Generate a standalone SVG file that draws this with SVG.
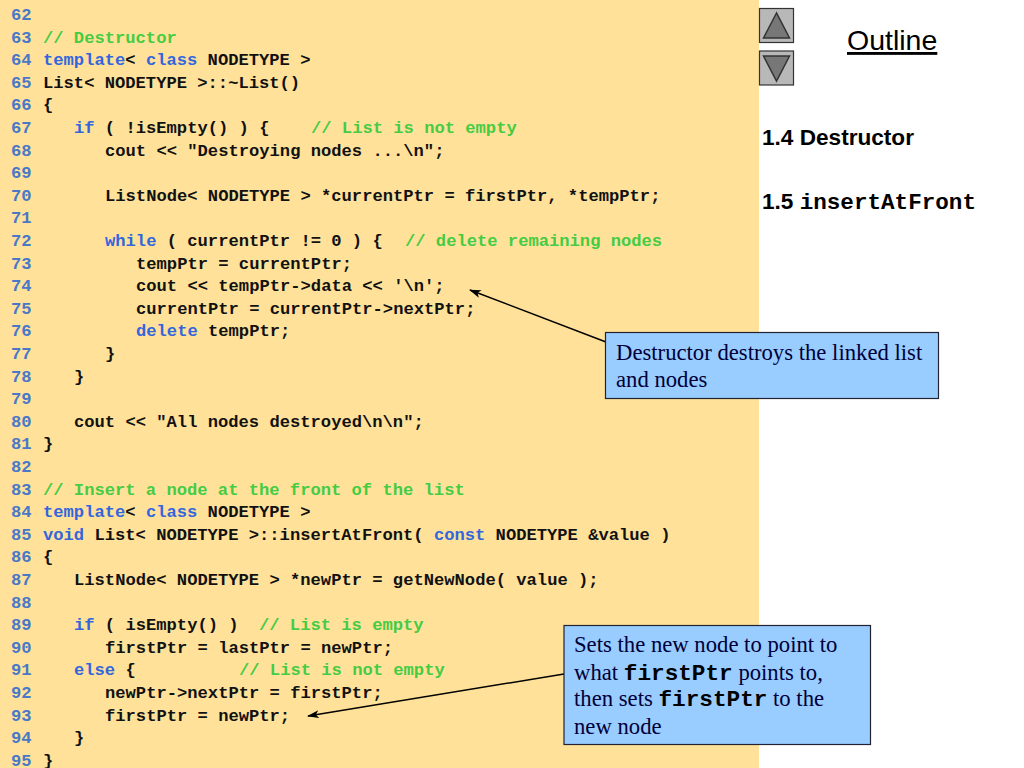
<svg xmlns="http://www.w3.org/2000/svg" width="1024" height="768" viewBox="0 0 1024 768">
<style>
.c{font-family:"Liberation Mono",monospace;font-weight:bold;font-size:17.15px;fill:#111}
.n{fill:#4a78c8}.k{fill:#3366dd}.g{fill:#44cc44}
.s{font-family:"Liberation Serif",serif;font-size:22.7px;fill:#00003a}
.m{font-family:"Liberation Mono",monospace;font-weight:bold}
.mk{fill:#000}
.h{font-family:"Liberation Sans",sans-serif;fill:#000}
.box{fill:#99ccff;stroke:#223;stroke-width:1.2}
.btn{fill:#b8b8b8;stroke:#333;stroke-width:1.2}
.tri{fill:#777;stroke:#333;stroke-width:1.5}
.ln{stroke:#000;stroke-width:1.5;fill:none;marker-end:url(#a)}
</style>
<defs><marker id="a" markerWidth="12" markerHeight="8" refX="11" refY="4" orient="auto" markerUnits="userSpaceOnUse"><path d="M0 0L12 4L0 8L3 4Z" fill="#000"/></marker></defs>
<rect width="1024" height="768" fill="#fff"/>
<rect id="panel" width="759" height="768" fill="#ffe199"/>
<g id="code" class="c">
<text x="11" y="20" class="n">62</text>
<text x="11" y="42.6" class="n">63</text><text x="43" y="42.6" class="g">// Destructor</text>
<text x="11" y="65.2" class="n">64</text><text x="43" y="65.2"><tspan class="k">template</tspan>&lt; <tspan class="k">class</tspan> NODETYPE &gt;</text>
<text x="11" y="87.8" class="n">65</text><text x="43" y="87.8">List&lt; NODETYPE &gt;::~List()</text>
<text x="11" y="110.4" class="n">66</text><text x="43" y="110.4">{</text>
<text x="11" y="133" class="n">67</text><text x="74" y="133"><tspan class="k">if</tspan> ( !isEmpty() ) {<tspan class="g" x="311">// List is not empty</tspan></text>
<text x="11" y="155.6" class="n">68</text><text x="105" y="155.6">cout &lt;&lt; "Destroying nodes ...\n";</text>
<text x="11" y="178.2" class="n">69</text>
<text x="11" y="200.8" class="n">70</text><text x="105" y="200.8">ListNode&lt; NODETYPE &gt; *currentPtr = firstPtr, *tempPtr;</text>
<text x="11" y="223.4" class="n">71</text>
<text x="11" y="246" class="n">72</text><text x="105" y="246"><tspan class="k">while</tspan> ( currentPtr != 0 ) {<tspan class="g" x="405">// delete remaining nodes</tspan></text>
<text x="11" y="268.6" class="n">73</text><text x="136" y="268.6">tempPtr = currentPtr;</text>
<text x="11" y="291.2" class="n">74</text><text x="136" y="291.2">cout &lt;&lt; tempPtr-&gt;data &lt;&lt; '\n';</text>
<text x="11" y="313.8" class="n">75</text><text x="136" y="313.8">currentPtr = currentPtr-&gt;nextPtr;</text>
<text x="11" y="336.4" class="n">76</text><text x="136" y="336.4"><tspan class="k">delete</tspan> tempPtr;</text>
<text x="11" y="359" class="n">77</text><text x="105" y="359">}</text>
<text x="11" y="381.6" class="n">78</text><text x="74" y="381.6">}</text>
<text x="11" y="404.2" class="n">79</text>
<text x="11" y="426.8" class="n">80</text><text x="74" y="426.8">cout &lt;&lt; "All nodes destroyed\n\n";</text>
<text x="11" y="449.4" class="n">81</text><text x="43" y="449.4">}</text>
<text x="11" y="472" class="n">82</text>
<text x="11" y="494.6" class="n">83</text><text x="43" y="494.6" class="g">// Insert a node at the front of the list</text>
<text x="11" y="517.2" class="n">84</text><text x="43" y="517.2"><tspan class="k">template</tspan>&lt; <tspan class="k">class</tspan> NODETYPE &gt;</text>
<text x="11" y="539.8" class="n">85</text><text x="43" y="539.8"><tspan class="k">void</tspan> List&lt; NODETYPE &gt;::insertAtFront( <tspan class="k">const</tspan> NODETYPE &amp;value )</text>
<text x="11" y="562.4" class="n">86</text><text x="43" y="562.4">{</text>
<text x="11" y="585" class="n">87</text><text x="74" y="585">ListNode&lt; NODETYPE &gt; *newPtr = getNewNode( value );</text>
<text x="11" y="607.6" class="n">88</text>
<text x="11" y="630.2" class="n">89</text><text x="74" y="630.2"><tspan class="k">if</tspan> ( isEmpty() )<tspan class="g" x="259">// List is empty</tspan></text>
<text x="11" y="652.8" class="n">90</text><text x="105" y="652.8">firstPtr = lastPtr = newPtr;</text>
<text x="11" y="675.4" class="n">91</text><text x="74" y="675.4"><tspan class="k">else</tspan> {<tspan class="g" x="239">// List is not empty</tspan></text>
<text x="11" y="698" class="n">92</text><text x="105" y="698">newPtr-&gt;nextPtr = firstPtr;</text>
<text x="11" y="720.6" class="n">93</text><text x="105" y="720.6">firstPtr = newPtr;</text>
<text x="11" y="743.2" class="n">94</text><text x="74" y="743.2">}</text>
<text x="11" y="765.5" class="n">95</text><text x="43" y="765.5">}</text>
</g>
<g id="connectors">
<path class="ln" d="M606 342L470 290"/>
<path class="ln" d="M564 674L308 716"/>
</g>
<g id="callout-destructor">
<rect class="box" x="605.5" y="332.5" width="333" height="66"/>
<text class="s" x="616" y="360">Destructor destroys the linked list</text>
<text class="s" x="616" y="387">and nodes</text>
</g>
<g id="callout-insert">
<rect class="box" x="564" y="625.5" width="306.5" height="119"/>
<text class="s" x="574" y="652">Sets the new node to point to</text>
<text class="s" x="574" y="680">what <tspan class="m mk">firstPtr</tspan> points to,</text>
<text class="s" x="574" y="706">then sets <tspan class="m mk">firstPtr</tspan> to the</text>
<text class="s" x="574" y="734">new node</text>
</g>
<g id="btn-up">
<rect class="btn" x="759.5" y="8.5" width="34" height="34"/>
<path class="tri" d="M776.5 13L763.5 38H789.5Z"/>
</g>
<g id="btn-down">
<rect class="btn" x="759.5" y="51" width="34" height="34"/>
<path class="tri" d="M763.5 56H789.5L776.5 81Z"/>
</g>
<g id="outline">
<text class="h" x="847" y="50" font-size="28.5" text-decoration="underline">Outline</text>
</g>
<g id="toc">
<text class="h" x="762" y="145" font-size="22.6" font-weight="bold">1.4 Destructor</text>
<text class="h" x="762" y="209" font-size="22.6" font-weight="bold">1.5 <tspan class="m">insertAtFront</tspan></text>
</g>
</svg>
